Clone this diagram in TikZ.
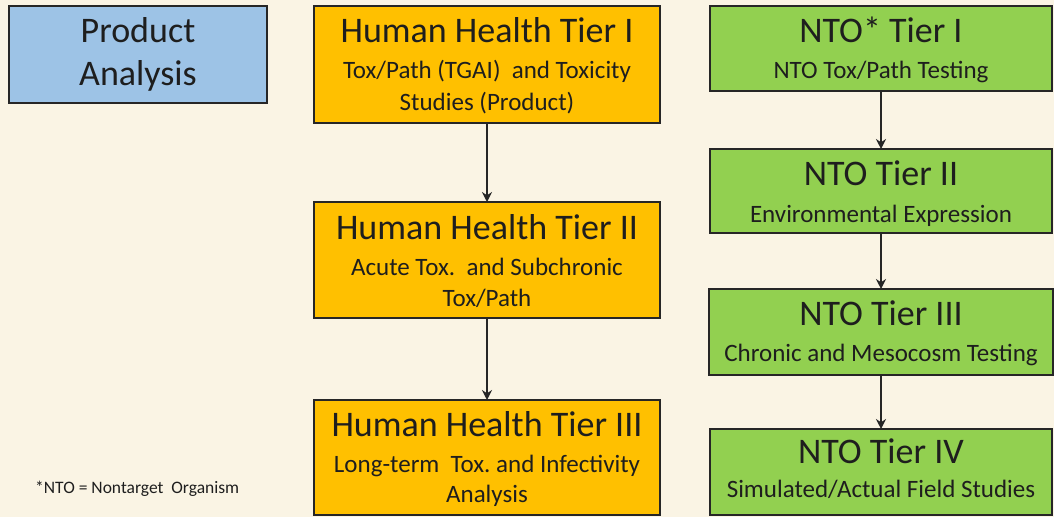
\documentclass[tikz,border=0pt]{standalone}
\usepackage{fontspec}
\setmainfont{Carlito}
\usetikzlibrary{arrows.meta}
\definecolor{bgc}{RGB}{250,244,228}
\definecolor{bluec}{RGB}{157,195,230}
\definecolor{orangec}{RGB}{255,192,0}
\definecolor{greenc}{RGB}{146,208,80}
\definecolor{edgec}{RGB}{38,38,38}
\definecolor{txtc}{RGB}{30,30,30}
\tikzset{
  box/.style={draw=edgec, line width=1.6pt, inner sep=0pt, outer sep=0pt},
  ttl/.style={anchor=base, inner sep=0pt, text=txtc, font=\fontsize{36}{43}\selectfont},
  sub/.style={anchor=base, inner sep=0pt, text=txtc, font=\fontsize{25}{30}\selectfont},
  note/.style={anchor=base west, inner sep=0pt, text=txtc, font=\fontsize{17.5}{21}\selectfont},
  arr/.style={draw=edgec, line width=1.3pt, -{Stealth[length=10pt,width=10pt]}}
}
\begin{document}
\begin{tikzpicture}[x=1pt,y=-1pt]
\fill[bgc] (0,0) rectangle (1054,517);
\useasboundingbox (0,0) rectangle (1054,517);
% boxes
\node[box, fill=bluec, minimum width=258pt, minimum height=97pt] (pa) at (138,54.5) {};
\node[box, fill=orangec, minimum width=346pt, minimum height=117pt] (h1) at (487,64.5) {};
\node[box, fill=orangec, minimum width=346pt, minimum height=116pt] (h2) at (487,260) {};
\node[box, fill=orangec, minimum width=346pt, minimum height=115pt] (h3) at (487,457.5) {};
\node[box, fill=greenc, minimum width=342pt, minimum height=85pt] (n1) at (881,48.5) {};
\node[box, fill=greenc, minimum width=342pt, minimum height=84pt] (n2) at (881,191) {};
\node[box, fill=greenc, minimum width=344pt, minimum height=86pt] (n3) at (881,332) {};
\node[box, fill=greenc, minimum width=342pt, minimum height=86pt] (n4) at (881,472) {};
% texts
\node[ttl] (pat1) at ([yshift=-36pt]pa.north) {Product};
\node[ttl] (pat2) at ([yshift=-79pt]pa.north) {Analysis};
\node[ttl] (h1t) at ([yshift=-36pt]h1.north) {Human Health Tier I};
\node[sub] (h1s1) at ([yshift=-72pt]h1.north) {Tox/Path (TGAI)\ \ and Toxicity};
\node[sub] (h1s2) at ([yshift=-104pt]h1.north) {Studies (Product)};
\node[ttl] (h2t) at ([yshift=-37pt]h2.north) {Human Health Tier II};
\node[sub] (h2s1) at ([yshift=-73pt]h2.north) {Acute Tox.\ \ and Subchronic};
\node[sub] (h2s2) at ([yshift=-104pt]h2.north) {Tox/Path};
\node[ttl] (h3t) at ([yshift=-36pt]h3.north) {Human Health Tier III};
\node[sub] (h3s1) at ([yshift=-72pt]h3.north) {Long-term\ \ Tox.\ and Infectivity};
\node[sub] (h3s2) at ([yshift=-102pt]h3.north) {Analysis};
\node[ttl] (n1t) at ([yshift=-36pt]n1.north) {NTO* Tier I};
\node[sub] (n1s) at ([yshift=-72pt]n1.north) {NTO Tox/Path Testing};
\node[ttl] (n2t) at ([yshift=-36pt]n2.north) {NTO Tier II};
\node[sub] (n2s) at ([yshift=-73pt]n2.north) {Environmental Expression};
\node[ttl] (n3t) at ([yshift=-36pt]n3.north) {NTO Tier III};
\node[sub] (n3s) at ([yshift=-72pt]n3.north) {Chronic and Mesocosm Testing};
\node[ttl] (n4t) at ([yshift=-34pt]n4.north) {NTO Tier IV};
\node[sub] (n4s) at ([yshift=-68pt]n4.north) {Simulated/Actual Field Studies};
\node[note] (fn) at (35,493) {*NTO = Nontarget\ \ Organism};
% arrows
\draw[arr] (h1.south) -- (h2.north);
\draw[arr] (h2.south) -- (h3.north);
\draw[arr] (n1.south) -- (n2.north);
\draw[arr] (n2.south) -- (n3.north);
\draw[arr] (n3.south) -- (n4.north);
\end{tikzpicture}
\end{document}
